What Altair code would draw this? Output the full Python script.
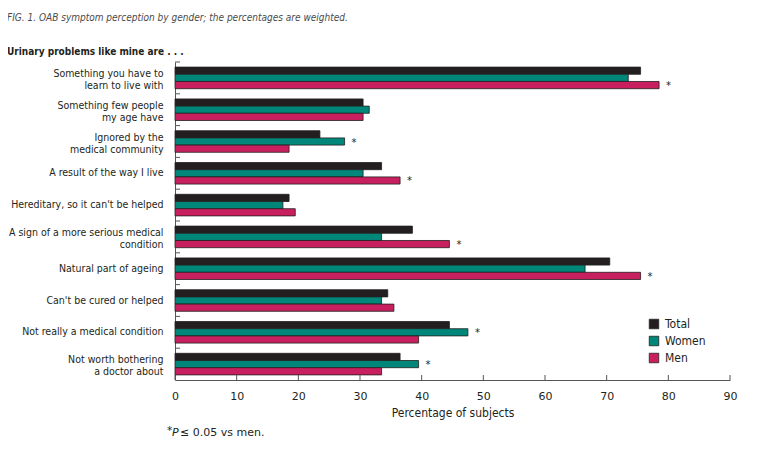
import altair as alt
import pandas as pd

categories = [
    "Something you have to|learn to live with",
    "Something few people|my age have",
    "Ignored by the|medical community",
    "A result of the way I live",
    "Hereditary, so it can't be helped",
    "A sign of a more serious medical|condition",
    "Natural part of ageing",
    "Can't be cured or helped",
    "Not really a medical condition",
    "Not worth bothering|a doctor about",
]
series = ["Total", "Women", "Men"]
total = [75.5, 30.5, 23.5, 33.5, 18.5, 38.5, 70.5, 34.5, 44.5, 36.5]
women = [73.5, 31.5, 27.5, 30.5, 17.5, 33.5, 66.5, 33.5, 47.5, 39.5]
men = [78.5, 30.5, 18.5, 36.5, 19.5, 44.5, 75.5, 35.5, 39.5, 33.5]
# which series carries the significance asterisk in each category
star_series = ["Men", "", "Women", "Men", "", "Men", "Men", "", "Women", "Women"]
x_ticks = [0, 10, 20, 30, 40, 50, 60, 70, 80, 90]
colors = ["#231f20", "#00877a", "#c8205f"]

FONT = "Liberation Sans Narrow, DejaVu Sans Condensed, Arial Narrow, sans-serif"
NUMFONT = "DejaVu Sans, Verdana, sans-serif"
W, H = 555, 318

rows = []
for i, c in enumerate(categories):
    for s, vals in zip(series, [total, women, men]):
        rows.append({"category": c, "series": s, "value": vals[i],
                     "star": "*" if star_series[i] == s else ""})
df = pd.DataFrame(rows)

xscale = alt.Scale(domain=[0, 90], nice=False, zero=True)
yscale = alt.Scale(paddingInner=0, paddingOuter=0)
offscale = alt.Scale(domain=series, paddingInner=0, paddingOuter=0.71)

xaxis = alt.Axis(values=x_ticks, ticks=False, grid=False, labelFlush=False,
                 domainColor="#555555", domainWidth=1,
                 labelFont=NUMFONT, labelFontSize=11, labelColor="#231f20",
                 labelPadding=10, title="Percentage of subjects",
                 titleFont=FONT, titleFontSize=12, titleFontWeight="normal",
                 titleColor="#231f20", titlePadding=6)
yaxis = alt.Axis(title=None, ticks=False, grid=False,
                 domainColor="#555555", domainWidth=1,
                 labelExpr="split(datum.label, '|')",
                 labelOffset={"condition": {"test": "indexof(datum.value, '|') >= 0", "value": -4},
                              "value": 0},
                 labelFont=FONT, labelFontSize=10.5, labelColor="#231f20",
                 labelLineHeight=12, labelPadding=12, labelLimit=200)

X = alt.X("value:Q", scale=xscale, axis=xaxis)
Y = alt.Y("category:N", sort=categories, scale=yscale, axis=yaxis)
YOFF = alt.YOffset("series:N", sort=series, scale=offscale)

base = alt.Chart(df)

bars = base.mark_bar(stroke="#231f20", strokeWidth=0.8).encode(
    x=X, y=Y, yOffset=YOFF,
    color=alt.Color("series:N", sort=series,
                    scale=alt.Scale(domain=series, range=colors),
                    legend=alt.Legend(title=None, orient="none", legendX=473, legendY=256,
                                      symbolType="square", symbolSize=90,
                                      symbolStrokeColor="#231f20", symbolStrokeWidth=0.8,
                                      labelFont=FONT, labelFontSize=12,
                                      labelColor="#231f20", labelOffset=5,
                                      rowPadding=3)),
)

stars = base.transform_filter("datum.star == '*'").mark_text(
    align="left", baseline="middle", dx=7, dy=1, fontSize=10, font=NUMFONT,
    color="#231f20").encode(x=X, y=Y, yOffset=YOFF, text="star:N")

ytick_df = pd.DataFrame({"category": categories})
yticks = alt.Chart(ytick_df).mark_rule(color="#555555", strokeWidth=1).encode(
    y=alt.Y("category:N", sort=categories, scale=yscale, axis=yaxis, bandPosition=0),
    x=alt.value(0), x2=alt.value(5),
)

xtick_df = pd.DataFrame({"value": x_ticks})
xticks = alt.Chart(xtick_df).mark_rule(color="#555555", strokeWidth=1).encode(
    x=X, y=alt.value(H), y2=alt.value(H - 5),
)

def label(txt, x, y, size, weight="normal", style="normal", color="#231f20", font=FONT):
    return alt.Chart(pd.DataFrame({"t": [txt]})).mark_text(
        align="left", baseline="middle", fontSize=size, fontWeight=weight,
        fontStyle=style, font=font, color=color).encode(
        text="t:N", x=alt.value(x), y=alt.value(y))

title = label("FIG. 1. OAB symptom perception by gender; the percentages are weighted.",
              -168, -44, 10, style="italic", color="#4a4a4a")
subtitle = label("Urinary problems like mine are . . .", -168, -10, 10, weight="bold")
fn1 = label("*", -8, 369, 10.5, font=NUMFONT)
fn2 = label("P", -3, 371, 11, style="italic", font=NUMFONT)
fn3 = label("\u2264 0.05 vs men.", 5, 371, 11, font=NUMFONT)

chart = alt.layer(bars, stars, yticks, xticks, title, subtitle, fn1, fn2, fn3).properties(
    width=W, height=H,
    background="white",
    autosize=alt.AutoSizeParams(type="none"),
    padding={"left": 167, "top": 54, "right": 27, "bottom": 60},
).configure_view(stroke=None)

chart.save("out.html", embed_options={"renderer": "svg", "actions": False})
